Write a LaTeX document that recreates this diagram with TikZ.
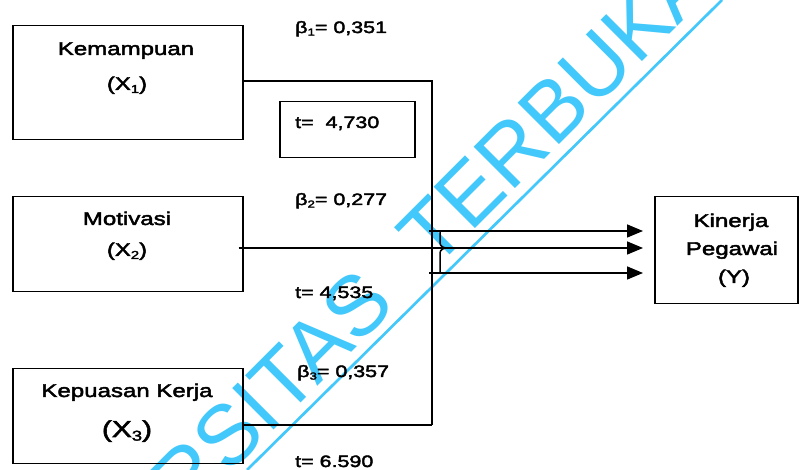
\documentclass[tikz,border=0pt]{standalone}
\usepackage{fontspec}
\setmainfont{Liberation Sans}[FakeStretch=1.3,FakeBold=2.5]
\newfontfamily\wmfont{Liberation Sans}
\usetikzlibrary{arrows.meta}
\definecolor{wmcyan}{RGB}{66,200,250}
\newcommand\lowidx[1]{\raisebox{-0.3ex}{\scalebox{0.62}{#1}}}
\tikzset{
  boxshape/.style={draw, line width=1.5pt, inner sep=0pt, anchor=north west},
  boxtext/.style={inner sep=0pt, anchor=base, font=\fontsize{18.5}{20}\selectfont},
  coef/.style={inner sep=0pt, anchor=base west, font=\fontsize{16.5}{18}\selectfont},
  conn/.style={line width=1.5pt},
  arr/.style={line width=1.5pt, -{Triangle[length=16pt,width=13pt]}}
}
\begin{document}
\begin{tikzpicture}[x=1pt,y=1pt]
\useasboundingbox (0,0) rectangle (799,470);
% watermark
\begin{scope}
  \clip (0,0) rectangle (799,470);
  \node[inner sep=0pt, rotate=45, anchor=base west, text=wmcyan,
        font=\wmfont\fontsize{85}{90}\selectfont] (wm) at (1.6,-232.6)
        {UNIVERSITAS\hspace{0.6em}TERBUKA};
  \coordinate (wa) at (247,0);
  \coordinate (wb) at (722,470);
  \draw[wmcyan, line width=2.7pt] (wa) -- (wb);
\end{scope}
% boxes
\node[boxshape, minimum width=230pt, minimum height=114pt] (x1) at (12,445) {};
\node[boxshape, minimum width=135pt, minimum height=56pt] (tb) at (279,369) {};
\node[boxshape, minimum width=230pt, minimum height=95pt] (x2) at (12,274) {};
\node[boxshape, minimum width=230pt, minimum height=95pt] (x3) at (12,102) {};
\node[boxshape, minimum width=143pt, minimum height=107pt] (y) at (654,274) {};
% box texts
\node[boxtext] (kem) at (126,415) {Kemampuan};
\node[boxtext] (x1l) at (127,380) {(X\lowidx{1})};
\node[boxtext] (mot) at (127,245) {Motivasi};
\node[boxtext] (x2l) at (127,214) {(X\lowidx{2})};
\node[boxtext] (kep) at (127,73) {Kepuasan Kerja};
\node[boxtext, font=\fontsize{23}{25}\selectfont] (x3l) at (127,33) {(X\lowidx{3})};
\node[boxtext] (kin) at (731,243) {Kinerja};
\node[boxtext] (peg) at (732,215) {Pegawai};
\node[boxtext] (yl) at (734,187) {(Y)};
% coefficients
\node[coef] (b1) at (295,437) {β\lowidx{1}= 0,351};
\node[coef] (t1) at (295,342) {t=\ \ 4,730};
\node[coef] (b2) at (295,265) {β\lowidx{2}= 0,277};
\node[coef] (t2) at (295,172) {t= 4,535};
\node[coef] (b3) at (297,93) {β\lowidx{3}= 0,357};
\node[coef] (t3) at (295,3) {t= 6.590};
% connectors
\coordinate (vtop) at (432,389);
\coordinate (vbot) at (432,45);
\coordinate (atop) at (429,239);
\coordinate (abot) at (429,197);
\coordinate (amid) at (643,222);
\draw[conn] (x1.east |- vtop) -- (vtop) -- (vbot);
\draw[conn] (x3.east |- vbot) -- (vbot);
\draw[arr] (atop) -- (amid |- atop);
\draw[arr] ([xshift=-5pt]x2.east |- amid) -- (amid);
\draw[arr] (abot) -- (amid |- abot);
\coordinate (bk1) at (440,239);
\coordinate (bk2) at (440,197);
\coordinate (bkm) at (447,222);
\draw[conn] (bk1) -- (440,227) to[out=-90,in=180] (bkm);
\draw[conn] (bkm) to[out=180,in=90] (440,217) -- (bk2);
\end{tikzpicture}
\end{document}
